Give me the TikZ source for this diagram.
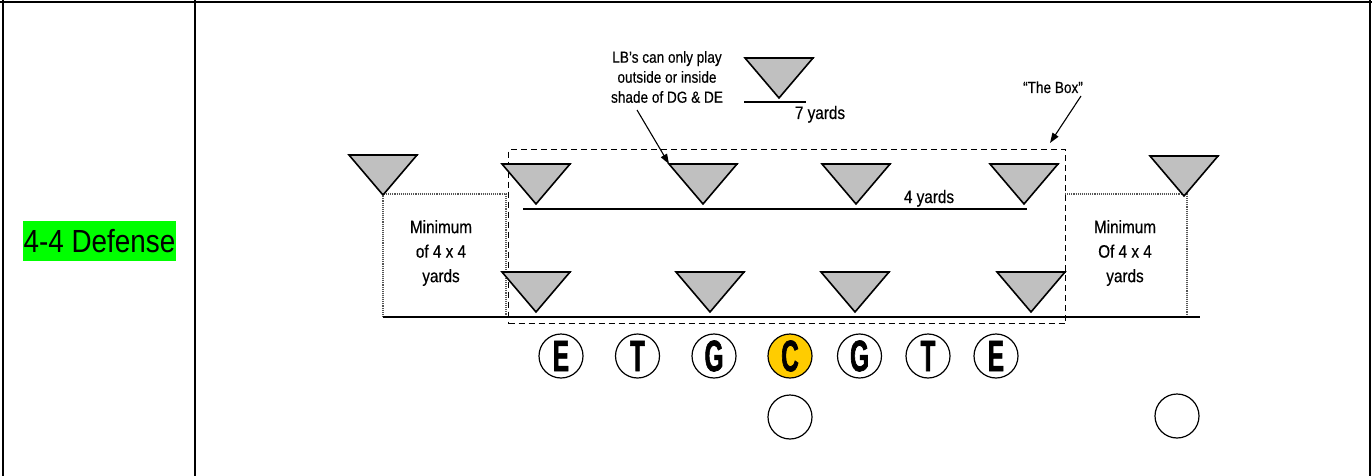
\documentclass[tikz,border=0pt]{standalone}
\usepackage{fontspec}
\usetikzlibrary{arrows.meta}
\newfontfamily\condf{Liberation Sans}[FakeStretch=0.85, FakeBold=0.4]
\newfontfamily\titlef{Liberation Sans}[FakeStretch=0.87]
\newfontfamily\condl{Liberation Sans}[FakeStretch=0.55, FakeBold=1.5]
\definecolor{trigray}{HTML}{C0C0C0}
\definecolor{hlgreen}{HTML}{00FF00}
\definecolor{cgold}{HTML}{FFCC00}
\definecolor{dotgray}{HTML}{555555}
\tikzset{
  pics/defender/.style={code={
    \draw[line width=1.6pt, fill=trigray, line join=miter]
      (-34,-40) coordinate (-tl) -- (34,-40) coordinate (-tr) -- (0,0) coordinate (-apex) -- cycle;
    \draw[line width=2.4pt] (-34.5,-40) -- (34.5,-40);
  }},
  player/.style={circle, draw, line width=1.2pt, minimum size=44pt, inner sep=0pt, fill=white,
    font=\condl\bfseries\fontsize{44}{44}\selectfont},
  center/.style={player, fill=cgold},
  note/.style={align=center, inner sep=0pt, font=\condf\fontsize{16}{20}\selectfont},
  minnote/.style={align=center, inner sep=0pt, font=\condf\fontsize{18}{24.5}\selectfont},
  yardnote/.style={inner sep=0pt, font=\condf\fontsize{18}{20}\selectfont},
  yardline/.style={line width=1.8pt},
  boxline/.style={line width=1.2pt, dash pattern=on 6pt off 4pt},
  zoneline/.style={line width=1.1pt, dotgray, densely dotted},
  pointer/.style={line width=1.1pt, -{Triangle[length=10pt,width=7pt]}},
  tableline/.style={line width=1.5pt},
}
\begin{document}
\begin{tikzpicture}[x=1pt, y=-1pt]
\useasboundingbox (0,0) rectangle (1372,476);
% table
\draw[line width=2pt] (0,2.5) -- (1372,2.5);
\draw[tableline] (3,0) -- (3,476);
\draw[tableline] (195,0) -- (195,476);
\draw[line width=2.5pt] (1370,0) -- (1370,476);
\node[fill=hlgreen, minimum width=153pt, minimum height=40pt, inner sep=0pt,
  font=\titlef\fontsize{32}{34}\selectfont] (title) at (99.5,241) {4-4 Defense};

% zones (dotted)
\draw[zoneline] (383,317) -- (383,194) -- (506,194) -- (506,317);
\draw[zoneline] (1065,194) -- (1187,194) -- (1187,317);

% the box (dashed)
\node[draw, boxline, minimum width=557pt, minimum height=174pt, inner sep=0pt, anchor=north west] (box) at (508,149) {};

% defenders
\pic (ss) at (383,195) {defender};
\pic (fs) at (1184,196) {defender};
\pic (deep) at (779,98) {defender};
\pic (lb1) at (536,204) {defender};
\pic (lb2) at (703,204) {defender};
\pic (lb3) at (856,204) {defender};
\pic (lb4) at (1024,204) {defender};
\pic (dl1) at (536,312) {defender};
\pic (dl2) at (710,312) {defender};
\pic (dl3) at (855,312) {defender};
\pic (dl4) at (1031,312) {defender};

% yard lines
\coordinate (scrimL) at (383,317);
\coordinate (scrimR) at (1200,317);
\draw[yardline] (scrimL) -- (scrimR);
\coordinate (lbL) at (523,209);
\coordinate (lbR) at (1027,209);
\draw[yardline] (lbL) -- (lbR);
\coordinate (deepL) at (744,102);
\coordinate (deepR) at (806,102);
\draw[yardline] (deepL) -- (deepR);

% texts
\node[yardnote, anchor=base] (seven) at (820,119) {7 yards};
\node[yardnote, anchor=base] (four) at (929,203) {4 yards};
\node[minnote] (minL) at (441,253) {Minimum\\of 4 x 4\\yards};
\node[minnote] (minR) at (1125,253) {Minimum\\Of 4 x 4\\yards};
\node[note] (lbnote) at (667,77) {LB’s can only play\\outside or inside\\shade of DG \& DE};
\node[note, anchor=base] (boxnote) at (1053,93) {“The Box”};

% pointers
\coordinate (lbfrom) at (637,110);
\draw[pointer] (lbfrom) -- (lb2-tl);
\coordinate (boxfrom) at (1081,96);
\coordinate (boxto) at (1050,143);
\draw[pointer] (boxfrom) -- (boxto);

% offense
\node[player] (le) at (561,356) {E};
\node[player] (lt) at (637.5,356) {T};
\node[player] (lg) at (714,356) {G};
\node[center] (c) at (790,356) {C};
\node[player] (rg) at (859.5,356) {G};
\node[player] (rt) at (928,356) {T};
\node[player] (re) at (996,356) {E};
\node[player] (qb) at (790,417) {};
\node[player] (wr) at (1177,416) {};
\end{tikzpicture}
\end{document}
